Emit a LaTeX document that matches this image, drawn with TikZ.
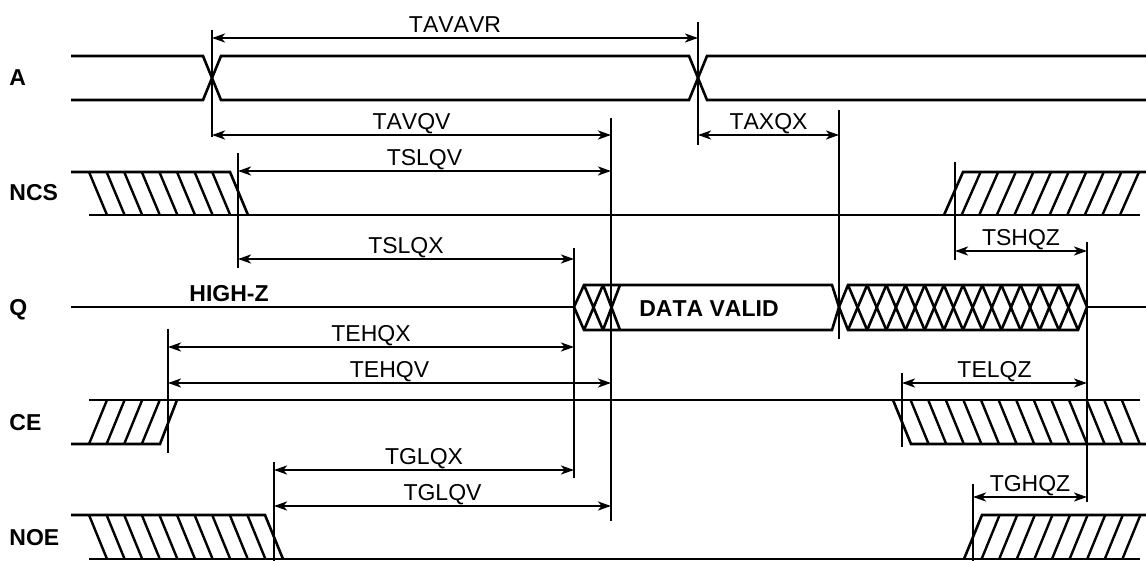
\documentclass[tikz,border=0pt]{standalone}
\usepackage{fontspec}
\setmainfont[Kerning=Off]{Liberation Sans}
\usetikzlibrary{arrows.meta}

\begin{document}
\begin{tikzpicture}[x=0.5pt,y=-0.5pt,
    font=\fontsize{11.5}{13}\selectfont,
    sig/.style={line width=1.3pt},
    hatch/.style={line width=1.2pt},
    guide/.style={line width=0.6pt},
    dim/.style={{Stealth[length=6.5pt,width=4.5pt,inset=1.8pt]}-{Stealth[length=6.5pt,width=4.5pt,inset=1.8pt]},line width=1.1pt},
    dimlbl/.style={above=2.4pt,inner sep=0pt,text depth=0pt},
    signame/.style={anchor=base west,inner sep=0pt,font=\fontsize{11.5}{13}\selectfont\bfseries},
    buslbl/.style={anchor=base,inner sep=0pt,font=\fontsize{11.5}{13}\selectfont\bfseries}]
  \useasboundingbox (0,0) rectangle (1146,561);

  % time marks
  \coordinate (ta) at (212,0);
  \coordinate (tb) at (698,0);
  \coordinate (ts) at (238,0);
  \coordinate (te) at (168,0);
  \coordinate (tg) at (274,0);
  \coordinate (tx) at (574,0);
  \coordinate (tv) at (611,0);
  \coordinate (th) at (839,0);
  \coordinate (tsh) at (955,0);
  \coordinate (tel) at (902,0);
  \coordinate (tgh) at (973,0);
  \coordinate (tz) at (1087,0);

  % signal names
  \node[signame] (sa) at (9,86) {A};
  \node[signame] (sncs) at (9,201) {NCS};
  \node[signame] (sq) at (9,315) {Q};
  \node[signame] (sce) at (9,430) {CE};
  \node[signame] (snoe) at (9,545) {NOE};

  % A
  \draw[sig] (71,56) -- (203,56) -- (221,100) -- (689,100) -- (707,56) -- (1146,56);
  \draw[sig] (71,100) -- (203,100) -- (221,56) -- (689,56) -- (707,100) -- (1146,100);

  % NCS
  \draw[sig] (71,172) -- (230,172) -- (248,215);
  \draw[sig] (89,215) -- (1140,215);
  \draw[sig] (944,215) -- (963,172) -- (1146,172);
  \foreach \k in {0,...,7}
    \draw[hatch] ({89+17.6*\k},172) -- ++(18,43);
  \foreach \k in {1,...,10}
    \draw[hatch] ({944+17.6*\k},215) -- ++(19,-43);

  % Q
  \draw[sig] (71,307) -- (574,307);
  \draw[sig] (574,307) -- (584,285) -- (832,285) -- (839,307) -- (832,330) -- (584,330) -- cycle;
  \draw[sig] (584,285) -- (603,330) (584,330) -- (603,285)
             (603,285) -- (620,330) (603,330) -- (620,285);
  \draw[sig] (839,307) -- (848,285) -- (1078,285) -- (1087,307) -- (1078,330) -- (848,330) -- cycle;
  \foreach \k in {0,...,11} {
    \draw[sig] ({848+19.17*\k},285) -- ++(19.17,45);
    \draw[sig] ({848+19.17*\k},330) -- ++(19.17,-45);
  }
  \draw[sig] (1087,307) -- (1146,307);
  \node[buslbl] (hiz) at (229,301) {HIGH-Z};
  \node[buslbl] (valid) at (709,316) {DATA VALID};

  % CE
  \draw[sig] (71,444) -- (160,444) -- (177,400);
  \draw[sig] (89,400) -- (1140,400);
  \draw[sig] (893,400) -- (911,444) -- (1146,444);
  \foreach \k in {0,...,3}
    \draw[hatch] ({89+17.6*\k},444) -- ++(18,-44);
  \foreach \k in {1,...,13}
    \draw[hatch] ({893+17.6*\k},400) -- ++(18,44);

  % NOE
  \draw[sig] (71,515) -- (265,515) -- (283,559);
  \draw[sig] (89,559) -- (1140,559);
  \draw[sig] (964,559) -- (982,515) -- (1146,515);
  \foreach \k in {0,...,9}
    \draw[hatch] ({89+17.6*\k},515) -- ++(18,44);
  \foreach \k in {1,...,9}
    \draw[hatch] ({964+17.6*\k},559) -- ++(18,-44);

  % guides
  \draw[guide] (ta |- 0,30) -- (ta |- 0,137);
  \draw[guide] (tb |- 0,22) -- (tb |- 0,145);
  \draw[guide] (tv |- 0,118) -- (tv |- 0,521);
  \draw[guide] (th |- 0,110) -- (th |- 0,339);
  \draw[guide] (ts |- 0,153) -- (ts |- 0,268);
  \draw[guide] (tx |- 0,248) -- (tx |- 0,478);
  \draw[guide] (tsh |- 0,162) -- (tsh |- 0,260);
  \draw[guide] (tz |- 0,242) -- (tz |- 0,502);
  \draw[guide] (te |- 0,329) -- (te |- 0,453);
  \draw[guide] (tel |- 0,373) -- (tel |- 0,447);
  \draw[guide] (tg |- 0,462) -- (tg |- 0,561);
  \draw[guide] (tgh |- 0,484) -- (tgh |- 0,561);

  % timing arrows
  \draw[dim] (ta |- 0,38) -- node[dimlbl] (lavavr) {TAVAVR} (tb |- 0,38);
  \draw[dim] (ta |- 0,135) -- node[dimlbl] (lavqv) {TAVQV} (tv |- 0,135);
  \draw[dim] (tb |- 0,135) -- node[dimlbl] (laxqx) {TAXQX} (th |- 0,135);
  \draw[dim] (ts |- 0,171) -- node[dimlbl] (lslqv) {TSLQV} (tv |- 0,171);
  \draw[dim] (ts |- 0,259) -- node[dimlbl] (lslqx) {TSLQX} (tx |- 0,259);
  \draw[dim] (tsh |- 0,251) -- node[dimlbl] (lshqz) {TSHQZ} (tz |- 0,251);
  \draw[dim] (te |- 0,347) -- node[dimlbl] (lehqx) {TEHQX} (tx |- 0,347);
  \draw[dim] (te |- 0,383) -- node[dimlbl] (lehqv) {TEHQV} (tv |- 0,383);
  \draw[dim] (tel |- 0,383) -- node[dimlbl] (lelqz) {TELQZ} (tz |- 0,383);
  \draw[dim] (tg |- 0,470) -- node[dimlbl] (lglqx) {TGLQX} (tx |- 0,470);
  \draw[dim] (tg |- 0,506) -- node[dimlbl] (lglqv) {TGLQV} (tv |- 0,506);
  \draw[dim] (tgh |- 0,497) -- node[dimlbl] (lghqz) {TGHQZ} (tz |- 0,497);
\end{tikzpicture}
\end{document}
